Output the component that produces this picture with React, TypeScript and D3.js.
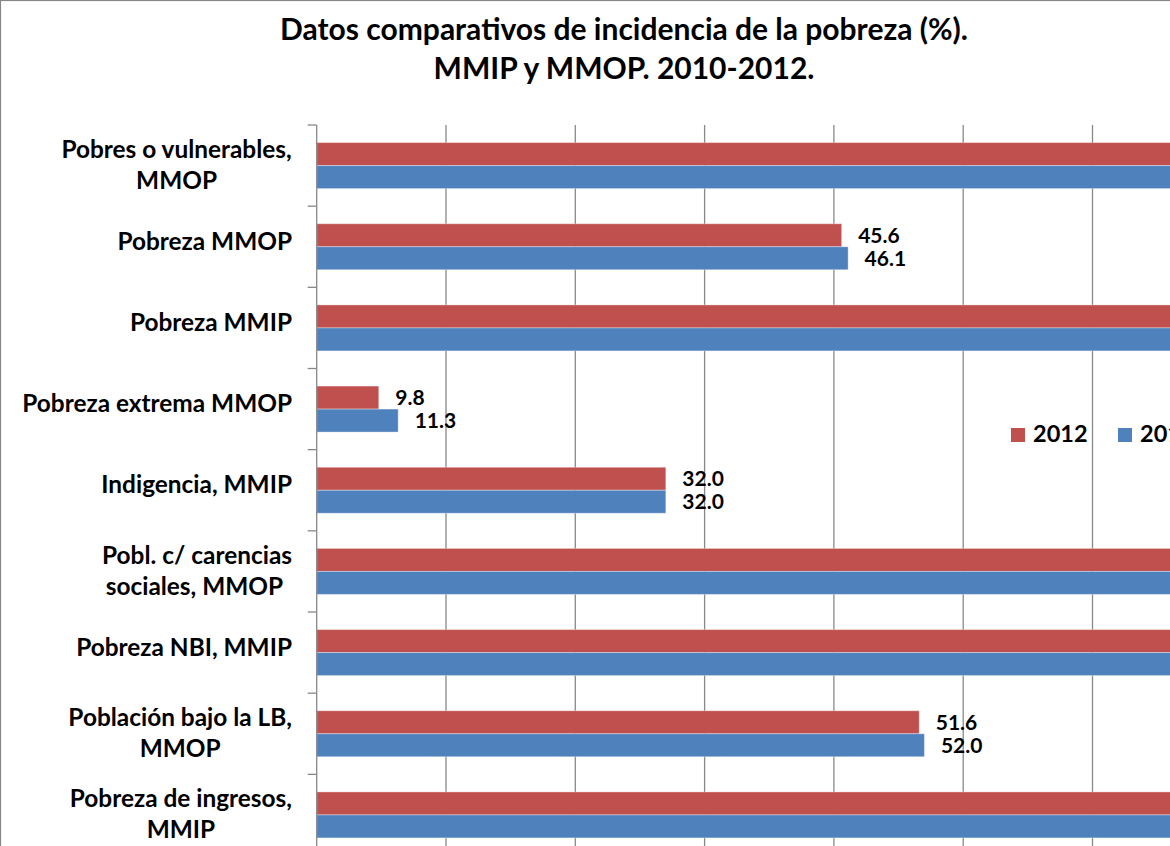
import React from "react";
import * as d3 from "d3";

const categories: string[][] = [
  ["Pobres o vulnerables,", "MMOP"],
  ["Pobreza MMOP"],
  ["Pobreza MMIP"],
  ["Pobreza extrema MMOP"],
  ["Indigencia, MMIP"],
  ["Pobl. c/ carencias", "sociales, MMOP "],
  ["Pobreza NBI, MMIP"],
  ["Población bajo la LB,", "MMOP"],
  ["Pobreza de ingresos,", "MMIP"],
];
const values2012: number[] = [80.3, 45.6, 80.5, 9.8, 32.0, 74.1, 73.5, 51.6, 77.0];
const values2010: number[] = [80.1, 46.1, 79.8, 11.3, 32.0, 74.2, 74.0, 52.0, 77.5];
const seriesNames: string[] = ["2012", "2010"];
const seriesColors: string[] = ["#C0504D", "#4F81BD"];
const xTicks: number[] = [5, 15, 25, 35, 45, 55, 65, 75, 85];

const W = 1170;
const H = 846;
const FONT = "Lato, 'Open Sans', sans-serif";

const plotLeft = 316.7;
const plotTop = 125;
const plotBottom = 855.5;
const pxPerUnit = 12.93;
const xMin = 5;
const xMax = 85;

const labelSize = 24.4;
const dataSize = 21;
const titleSize = 30;
const legendSize = 23.5;

let measureCtx: CanvasRenderingContext2D | null = null;
function measure(text: string, size: number): number {
  if (!measureCtx) {
    const c = document.createElement("canvas");
    measureCtx = c.getContext("2d");
  }
  if (!measureCtx) return text.length * size * 0.5;
  measureCtx.font = `bold ${size}px ${FONT}`;
  return measureCtx.measureText(text).width;
}

export default function App() {
  const x = d3
    .scaleLinear()
    .domain([xMin, xMax])
    .range([plotLeft, plotLeft + (xMax - xMin) * pxPerUnit]);

  const pad = 0.4335;
  const y = d3
    .scaleBand<number>()
    .domain(d3.range(categories.length))
    .range([plotTop, plotBottom])
    .paddingInner(pad)
    .paddingOuter(pad / 2);
  const step = y.step();
  const bw = y.bandwidth() / 2;

  const series = [values2012, values2010];
  const labelRight = 292;

  return (
    <svg
      width={W}
      height={H}
      style={{ position: "absolute", left: 0, top: 0, background: "#fff" }}
      fontFamily={FONT}
    >
      <rect x={0} y={0} width={W} height={H} fill="#fff" />
      <rect x={0.5} y={0.5} width={W + 10} height={H + 10} fill="none" stroke="#868686" strokeWidth={1.2} />

      {/* title */}
      <text x={624} y={40} textAnchor="middle" fontSize={titleSize} fontWeight="bold" fill="#000">
        Datos comparativos de incidencia de la pobreza (%).
      </text>
      <text x={624} y={79} textAnchor="middle" fontSize={titleSize} fontWeight="bold" fill="#000">
        MMIP y MMOP. 2010-2012.
      </text>

      {/* gridlines */}
      {xTicks.slice(1).map((t) => (
        <line key={t} x1={x(t)} x2={x(t)} y1={plotTop} y2={plotBottom} stroke="#888" strokeWidth={1.3} />
      ))}

      {/* bars */}
      {series.map((vals, si) =>
        vals.map((v, ci) => {
          const y0 = (y(ci) as number) + si * bw;
          return (
            <rect
              key={`${si}-${ci}`}
              x={x(xMin)}
              y={y0}
              width={x(v) - x(xMin)}
              height={bw}
              fill={seriesColors[si]}
              stroke="rgba(255,255,255,0.35)"
              strokeWidth={1}
            />
          );
        })
      )}

      {/* data labels (those past the right edge fall outside the picture) */}
      {series.map((vals, si) =>
        vals.map((v, ci) => {
          const yc = (y(ci) as number) + si * bw + bw / 2;
          const lx = x(v) + 16.5;
          if (lx > W) return null;
          return (
            <text
              key={`l${si}-${ci}`}
              x={lx}
              y={yc + 7.5}
              fontSize={dataSize}
              fontWeight="bold"
              fill="#000"
            >
              {v.toFixed(1)}
            </text>
          );
        })
      )}

      {/* axis */}
      <line x1={plotLeft} x2={plotLeft} y1={plotTop} y2={plotBottom} stroke="#888" strokeWidth={1.3} />
      {d3.range(categories.length + 1).map((i) => (
        <line
          key={`tk${i}`}
          x1={plotLeft - 9}
          x2={plotLeft}
          y1={plotTop + i * step}
          y2={plotTop + i * step}
          stroke="#888"
          strokeWidth={1.3}
        />
      ))}

      {/* category labels */}
      {categories.map((lines, ci) => {
        const center = plotTop + ci * step + step / 2;
        const widths = lines.map((l) => measure(l, labelSize));
        const maxW = Math.max(...widths);
        const cx = labelRight - maxW / 2;
        if (lines.length === 1) {
          return (
            <text key={`c${ci}`} x={labelRight} y={center + 3} textAnchor="end" fontSize={labelSize} fontWeight="bold" fill="#000">
              {lines[0]}
            </text>
          );
        }
        return (
          <g key={`c${ci}`}>
            {lines.map((l, li) => (
              <text
                key={li}
                x={cx}
                y={center - 7.5 + li * 31}
                textAnchor="middle"
                fontSize={labelSize}
                fontWeight="bold"
                fill="#000"
                style={{ whiteSpace: "pre" }}
              >
                {l}
              </text>
            ))}
          </g>
        );
      })}

      {/* legend */}
      {seriesNames.map((n, i) => {
        const lx = 1011 + i * 107;
        return (
          <g key={n}>
            <rect x={lx} y={428} width={14} height={14} fill={seriesColors[i]} />
            <text x={lx + 22} y={442} fontSize={legendSize} fontWeight="bold" fill="#000">
              {n}
            </text>
          </g>
        );
      })}
    </svg>
  );
}
